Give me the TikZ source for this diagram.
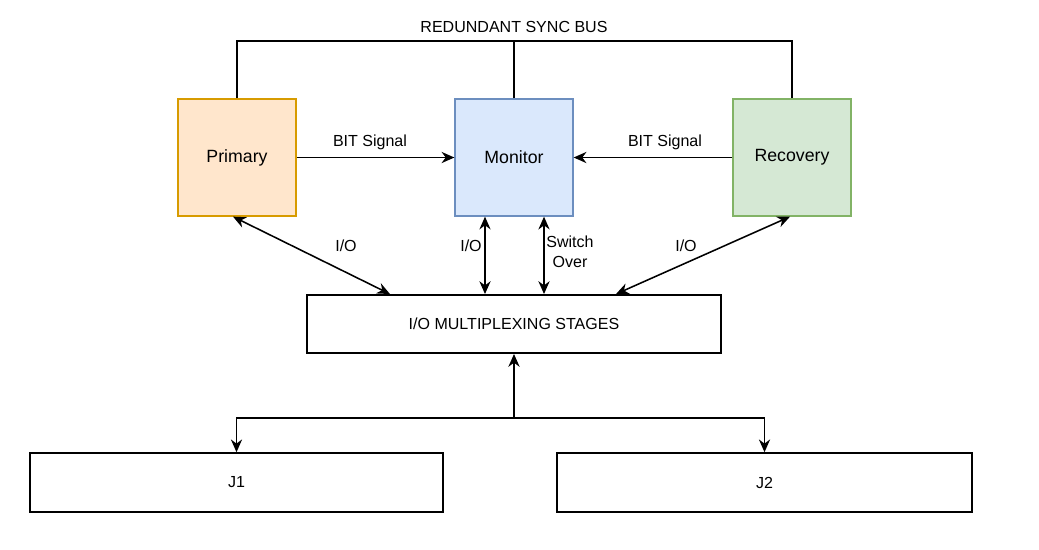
\documentclass[tikz,border=0pt]{standalone}
\usepackage{fontspec}
\setmainfont{Liberation Sans}
\usetikzlibrary{arrows.meta}

\definecolor{primfill}{HTML}{FFE6CC}
\definecolor{primdraw}{HTML}{D79B00}
\definecolor{monfill}{HTML}{DAE8FC}
\definecolor{mondraw}{HTML}{6C8EBF}
\definecolor{recfill}{HTML}{D5E8D4}
\definecolor{recdraw}{HTML}{82B366}

\begin{document}
\begin{tikzpicture}[x=0.025cm,y=-0.025cm,line width=1.1pt,>={Stealth[length=3.2mm,width=2.8mm]},
  unit/.style={draw,line width=0.9pt,minimum width=2.95cm,minimum height=2.925cm,font=\fontsize{12.6}{15}\selectfont},
  widebox/.style={draw,line width=1.1pt,minimum width=10.35cm,minimum height=1.46cm,font=\fontsize{11.4}{13}\selectfont},
  lbl/.style={font=\fontsize{11.4}{14.2}\selectfont,inner sep=1pt}]
  \useasboundingbox[fill=white] (0,0) rectangle (1039,549);
  % the three units
  \node[unit,fill=primfill,draw=primdraw] (prim) at (237,157.5) {Primary};
  \node[unit,fill=monfill,draw=mondraw] (mon) at (514,157.5) {Monitor};
  \node[unit,fill=recfill,draw=recdraw] (rec) at (792,157.5) {Recovery};
  % sync bus
  \coordinate (bus) at (514,41);
  \draw (prim.north) -- (prim.north |- bus) -| (rec.north);
  \draw (mon.north) -- (mon.north |- bus);
  \node[lbl] (buslbl) at (514,27) {REDUNDANT SYNC BUS};
  % BIT signals
  \draw[->] (prim.east) -- (mon.west);
  \draw[->] (rec.west) -- (mon.east);
  \node[lbl] (bitl) at (370,142) {BIT Signal};
  \node[lbl] (bitr) at (665,142) {BIT Signal};
  % multiplexer and its links
  \node[widebox] (mux) at (514,324) {I/O MULTIPLEXING STAGES};
  \draw[<->] ([xshift=-0.1cm]prim.south) -- ([xshift=-3.1cm]mux.north);
  \draw[<->] ([xshift=-0.725cm]mon.south) -- ([xshift=-0.725cm]mux.north);
  \draw[<->] ([xshift=0.75cm]mon.south) -- ([xshift=0.75cm]mux.north);
  \draw[<->] ([xshift=-0.05cm]rec.south) -- ([xshift=2.55cm]mux.north);
  \node[lbl] (iop) at (346,246) {I/O};
  \node[lbl] (iom) at (471,246) {I/O};
  \node[lbl,align=center] (swo) at (570,252) {Switch\\Over};
  \node[lbl] (ior) at (686,246) {I/O};
  % J1 and J2
  \node[widebox,minimum width=10.325cm,minimum height=1.475cm] (j1) at (236.5,482.5) {J1};
  \node[widebox,minimum width=10.375cm,minimum height=1.475cm] (j2) at (764.5,482.5) {J2};
  \coordinate (junc) at (514,418);
  \draw[->] (junc) -- (mux.south);
  \draw[->] (junc) -| (j1.north);
  \draw[->] (junc) -| (j2.north);
\end{tikzpicture}
\end{document}
